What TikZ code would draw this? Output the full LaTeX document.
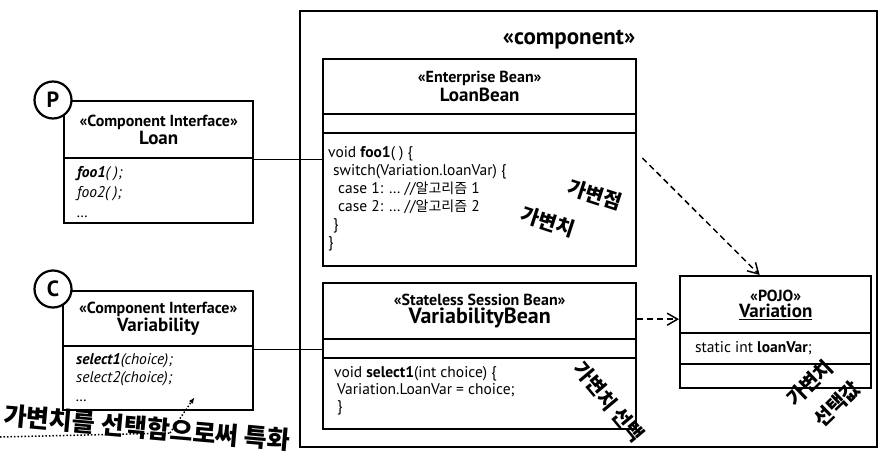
\documentclass[tikz,border=0pt]{standalone}
\usepackage{fontspec}
\setmainfont{PT Sans}
\newfontfamily\kr{Noto Sans CJK KR}
\usetikzlibrary{arrows.meta,positioning}
\newcommand{\classhead}[2]{{\bfseries\fontsize{16}{17}\selectfont «#1»}\\[1pt]{\bfseries\fontsize{19}{20}\selectfont #2}}

\begin{document}
\begin{tikzpicture}[x=1pt, y=-1pt, >=Latex,
  box/.style={draw, line width=2.4pt, anchor=north west, inner sep=0pt, align=center},
  body/.style={anchor=north west, inner sep=0pt, align=left, font=\fontsize{15.5}{18}\selectfont},
  pin/.style={circle, draw, line width=2.2pt, fill=white, minimum size=37pt, inner sep=0pt, font=\bfseries\fontsize{22}{22}\selectfont},
  link/.style={line width=1.7pt},
  dep/.style={line width=1.5pt, dash pattern=on 6pt off 4pt, -{Straight Barb[angle=60:12pt, line width=1.5pt]}},
  note/.style={inner sep=0pt, font=\kr\bfseries\fontsize{20}{24}\selectfont}]
\useasboundingbox (0,0) rectangle (881,458);
% component frame
\node[draw, line width=2pt, anchor=north west, inner sep=0pt, minimum width=577pt, minimum height=436pt] (comp) at (299,10) {};
\node[font=\bfseries\fontsize{23}{26}\selectfont] (comptitle) at (569,40) {«component»};
% interfaces
\node[box, minimum width=189pt, minimum height=57pt] (loanhd) at (63,100) {\classhead{Component Interface}{Loan}};
\node[box, minimum width=189pt, minimum height=65pt] (loanops) at (63,157) {};
\node[body, font=\itshape\fontsize{15.5}{20}\selectfont] (loantxt) at (77,166) {\textbf{foo1}( );\\foo2( );\\…};
\node[box, minimum width=190pt, minimum height=55pt] (varhd) at (62,290) {\classhead{Component Interface}{Variability}};
\node[box, minimum width=190pt, minimum height=64pt] (varops) at (62,345) {};
\node[body, font=\itshape\fontsize{15.5}{18.5}\selectfont] (vartxt) at (76,353) {\textbf{select1}(choice);\\select2(choice);\\…};
\node[pin] (p) at (53,100) {P};
\node[pin] (c) at (53,289) {C};
% beans
\node[box, minimum width=313pt, minimum height=55pt] (beanhd) at (322,58) {\classhead{Enterprise Bean}{LoanBean}};
\node[box, minimum width=313pt, minimum height=19pt] (beanatt) at (322,113) {};
\node[box, minimum width=313pt, minimum height=133pt] (beanops) at (322,132) {};
\node[body] (beantxt) at (328,146) {void \textbf{foo1}( ) \{\\
  \hspace{5pt}switch(Variation.loanVar) \{\\
  \hspace{10pt}case 1: … //{\kr\fontsize{14}{18}\selectfont 알고리즘} 1\\
  \hspace{10pt}case 2: … //{\kr\fontsize{14}{18}\selectfont 알고리즘} 2\\
  \hspace{5pt}\}\\
  \}};
\node[box, minimum width=313pt, minimum height=56pt] (vbhd) at (322,282) {\classhead{Stateless Session Bean}{\fontsize{22}{22}\selectfont VariabilityBean}};
\node[box, minimum width=313pt, minimum height=19pt] (vbatt) at (322,338) {};
\node[box, minimum width=313pt, minimum height=71pt] (vbops) at (322,357) {};
\node[body, font=\fontsize{15.5}{17}\selectfont] (vbtxt) at (334,366) {void \textbf{select1}(int choice) \{\\
  \hspace{3pt}Variation.LoanVar = choice;\\
  \hspace{3pt}\}};
% pojo
\node[box, minimum width=191pt, minimum height=57pt] (pojohd) at (679,275) {\classhead{POJO}{\underline{Variation}}};
\node[box, minimum width=191pt, minimum height=31pt] (pojoatt) at (679,332) {};
\node[box, minimum width=191pt, minimum height=24pt] (pojoops) at (679,363) {};
\node[body, anchor=west] (pojotxt) at (695,348) {static int \textbf{loanVar};};
% connectors
\draw[link] (loanhd.south east) -- (loanhd.south east -| beanops.west);
\draw[link] ([yshift=-2pt]varhd.south east) -- ([yshift=-2pt]varhd.south east -| vbatt.west);
\draw[dep] ([xshift=5pt,yshift=-26pt]beanops.north east) -- ([xshift=-16pt]pojohd.north);
\draw[dep] ([yshift=-8pt]vbhd.east) -- ([yshift=-8pt]vbhd.east -| pojohd.west);
% hand notes
\node[note, rotate=-18] (vpoint) at (595,195) {가변점};
\node[note, rotate=-18] (vvar) at (548,222) {가변치};
\node[note, rotate=-50] (vsel) at (609,402) {가변치 선택};
\node[note, rotate=44] (vval1) at (810,383) {가변치};
\node[note, rotate=44] (vval2) at (837,404) {선택값};
\node[note, rotate=-5, font=\kr\bfseries\fontsize{25}{28}\selectfont] (spec) at (147,428) {가변치를 선택함으로써 특화};
\coordinate (specl) at (0,437);
\coordinate (specm) at (170,433);
\draw[line width=1.5pt, dotted] (specl) -- (specm);
\draw[line width=1.5pt, dotted, -{Latex[length=6pt, width=5pt]}] (specm) -- ([xshift=-60pt, yshift=14pt]varops.south east);
\end{tikzpicture}
\end{document}
